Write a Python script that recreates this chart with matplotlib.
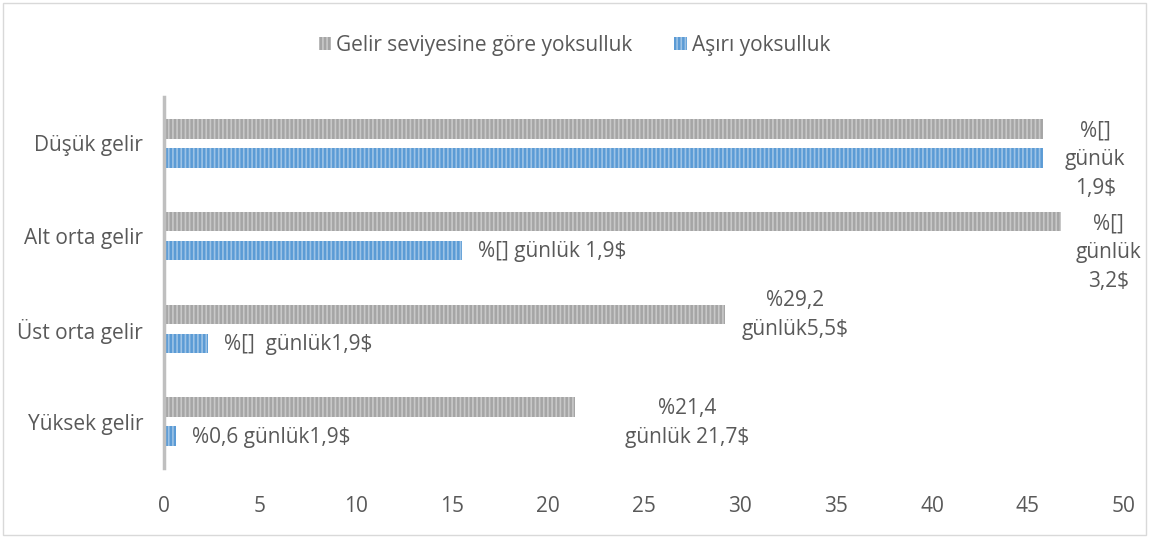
import matplotlib
matplotlib.use("Agg")
import matplotlib.pyplot as plt
from matplotlib.patches import Rectangle, Patch
import numpy as np

plt.rcParams['font.family'] = ['Open Sans', 'DejaVu Sans']
plt.rcParams['hatch.linewidth'] = 1.2

categories = ["Düşük gelir", "Alt orta gelir", "Üst orta gelir", "Yüksek gelir"]
income_poverty = [45.8, 46.7, 29.2, 21.4]
extreme_poverty = [45.8, 15.5, 2.3, 0.6]
series_names = ["Gelir seviyesine göre yoksulluk", "Aşırı yoksulluk"]
gray_labels = ["", "%[]\ngünlük\n3,2$", "%29,2\ngünlük5,5$", "%21,4\ngünlük 21,7$"]
blue_labels = ["%[]\ngünük\n1,9$", "%[] günlük 1,9$", "%[]  günlük1,9$", "%0,6 günlük1,9$"]
xticks = [0, 5, 10, 15, 20, 25, 30, 35, 40, 45, 50]

TXT = "#595959"
fs = 15
fig = plt.figure(figsize=(11.49, 5.38), dpi=100)
ax = fig.add_axes([164/1149, 1-468/538, (1124-164)/1149, (468-97)/538])

y = np.arange(len(categories))
off = 0.157
h = 0.21
ax.barh(y - off, income_poverty, height=h, left=0, color="#a5a5a5",
        edgecolor="#c8c8c8", hatch="||||", linewidth=0)
ax.barh(y + off, extreme_poverty, height=h, left=0, color="#5b9bd5",
        edgecolor="#9dc3e6", hatch="||||", linewidth=0)

ax.set_xlim(0, 50)
ax.set_ylim(3.5, -0.5)
ax.set_yticks(y)
ax.set_yticklabels(categories)
ax.set_xticks(xticks)
ax.tick_params(axis='both', length=0, labelsize=fs, colors=TXT)
ax.tick_params(axis='x', pad=20)
ax.tick_params(axis='y', pad=15)
for lab in ax.get_yticklabels():
    lab.set_y(lab.get_position()[1])
for s in ["top", "right", "bottom"]:
    ax.spines[s].set_visible(False)
ax.spines["left"].set_color("#bfbfbf")
ax.spines["left"].set_linewidth(2.5)

ls = 1.48
# gray bar labels
gray_offsets = [(0, 0), (48, -31), (70, -1), (112, -16)]
for i, (v, lab) in enumerate(zip(income_poverty, gray_labels)):
    if lab:
        ax.annotate(lab, xy=(v, y[i] - off), xytext=gray_offsets[i], textcoords="offset pixels",
                    ha="center", va="center", fontsize=fs, color=TXT, linespacing=ls)
# blue bar labels
for i, (v, lab) in enumerate(zip(extreme_poverty, blue_labels)):
    if i == 0:
        ax.annotate(lab, xy=(v, y[i] + off), xytext=(52, -2), textcoords="offset pixels",
                    ha="center", va="center", fontsize=fs, color=TXT, linespacing=ls)
    else:
        ax.annotate(lab, xy=(v, y[i] + off), xytext=(16, -1), textcoords="offset pixels",
                    ha="left", va="center", fontsize=fs, color=TXT)

handles = [Patch(facecolor="#a5a5a5", edgecolor="#c8c8c8", hatch="||||", linewidth=0),
           Patch(facecolor="#5b9bd5", edgecolor="#9dc3e6", hatch="||||", linewidth=0)]
fig.legend(handles, series_names, loc="center", bbox_to_anchor=(0.5, 1-45/538), ncol=2,
           frameon=False, fontsize=fs, labelcolor=TXT, handlelength=0.6, handleheight=0.6,
           handletextpad=0.25, columnspacing=2.0)

fig.patches.append(Rectangle((3/1149, 3/538), 1-6/1149, 1-6/538, transform=fig.transFigure,
                             fill=False, edgecolor="#d9d9d9", linewidth=1))

fig.savefig("out.png", dpi=100)
